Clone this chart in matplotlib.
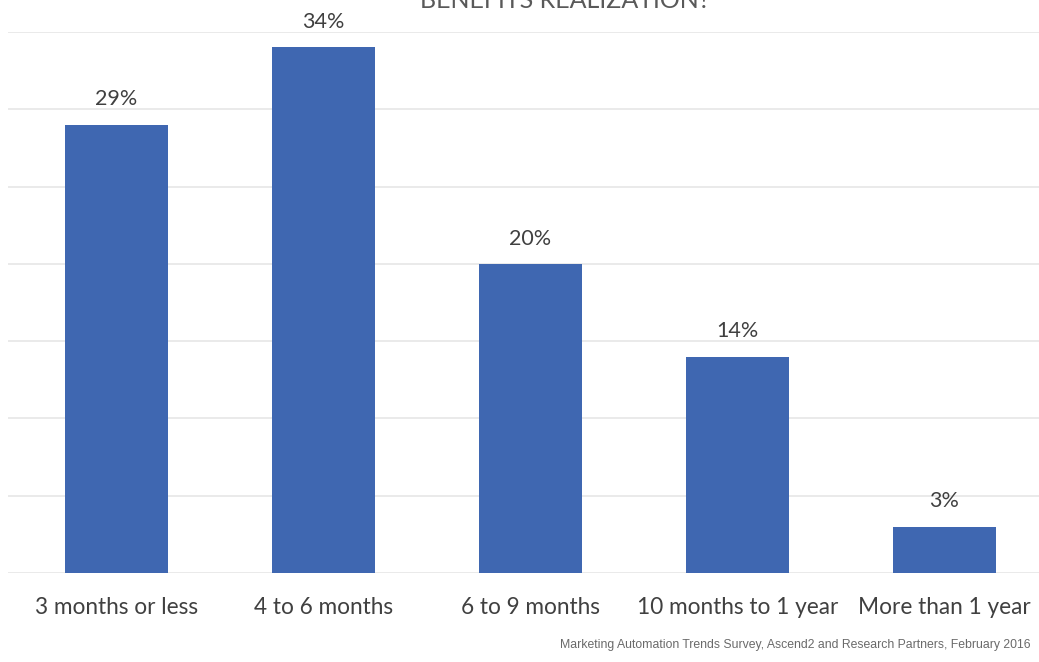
import matplotlib
matplotlib.use("Agg")
import matplotlib.pyplot as plt
import numpy as np

categories = ["3 months or less", "4 to 6 months", "6 to 9 months",
              "10 months to 1 year", "More than 1 year"]
values = [29, 34, 20, 14, 3]
title = "BENEFITS REALIZATION?"
source = "Marketing Automation Trends Survey, Ascend2 and Research Partners, February 2016"

W, H = 1039, 662
fig = plt.figure(figsize=(W / 100, H / 100), dpi=100)

# axes placed in pixel terms: baseline at y=573, 35% line at y=32
left_px, right_px = 8, 1039
bottom_px, top_px = 573, 32
ax = fig.add_axes([left_px / W, 1 - bottom_px / H,
                   (right_px - left_px) / W, (bottom_px - top_px) / H])

x = np.arange(len(categories))
ax.bar(x, values, width=0.5, color="#3f67b1", zorder=3)

# category spacing 207px, first centre at 116.5px
ax.set_xlim((left_px - 116.5) / 207, (right_px - 116.5) / 207)
ax.set_ylim(0, 35)
ax.set_yticks(np.arange(0, 36, 5))
ax.yaxis.grid(True, color="#e6e6e6", linewidth=1.2, zorder=0)
ax.tick_params(axis="y", left=False, labelleft=False)
ax.tick_params(axis="x", bottom=False, pad=14)
ax.set_xticks(x)
ax.set_xticklabels(categories, fontsize=16.3, color="#404040", family="Lato")
for s in ax.spines.values():
    s.set_visible(False)

for xi, v in zip(x, values):
    ax.annotate(f"{v}%", (xi, v), xytext=(0, 11), textcoords="offset points",
                ha="center", va="bottom", fontsize=15.5, color="#404040", family="Lato")

# title cut off at the top edge of the image
fig.text(0.544, 1 - 1 / H, title, ha="center", va="center", fontsize=18,
         color="#595959", family="Lato")

fig.text(1030 / W, 1 - 645 / H, source, ha="right", va="center", fontsize=8.8,
         color="#6a6a6a", family="Liberation Sans")

fig.savefig("out.png", dpi=100)
